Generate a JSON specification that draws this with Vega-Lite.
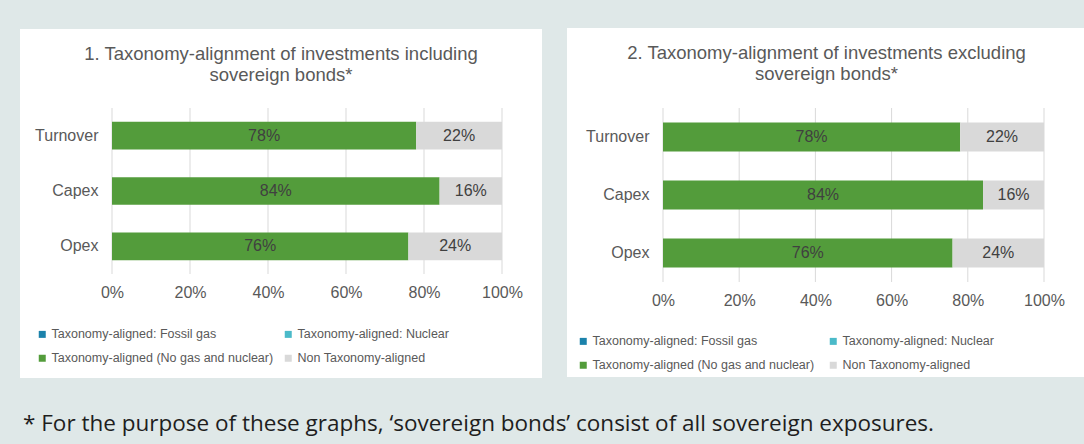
{
  "$schema": "https://vega.github.io/schema/vega-lite/v6.json",
  "background": "#dfe8e8",
  "padding": {"left": 19, "top": 28, "right": 0, "bottom": 12},
  "config": {
    "font": "Liberation Sans",
    "view": {"stroke": null},
    "axis": {"labelFont": "Liberation Sans", "labelFontSize": 16, "labelColor": "#595959", "domain": false, "ticks": false, "grid": false, "title": null},
    "legend": {"columns": 2, "direction": "horizontal", "symbolType": "square", "symbolSize": 49, "symbolStrokeWidth": 0, "labelFont": "Liberation Sans", "labelFontSize": 12.5, "labelColor": "#595959", "labelOffset": 3, "labelLimit": 400, "rowPadding": 11, "padding": 0},
    "title": {"font": "Liberation Sans", "fontSize": 18.5, "fontWeight": "normal", "color": "#595959", "lineHeight": 21}
  },
  "title": {"text": "* For the purpose of these graphs, ‘sovereign bonds’ consist of all sovereign exposures.", "orient": "bottom", "anchor": "start", "font": "Open Sans", "fontSize": 22.5, "fontWeight": "normal", "color": "#1e1e1e", "offset": 35, "dx": 3},
  "datasets": {
    "incl": [
      {"category": "Turnover", "type": "Taxonomy-aligned (No gas and nuclear)", "value": 0.78},
      {"category": "Turnover", "type": "Non Taxonomy-aligned", "value": 0.22},
      {"category": "Capex", "type": "Taxonomy-aligned (No gas and nuclear)", "value": 0.84},
      {"category": "Capex", "type": "Non Taxonomy-aligned", "value": 0.16},
      {"category": "Opex", "type": "Taxonomy-aligned (No gas and nuclear)", "value": 0.76},
      {"category": "Opex", "type": "Non Taxonomy-aligned", "value": 0.24}
    ],
    "excl": [
      {"category": "Turnover", "type": "Taxonomy-aligned (No gas and nuclear)", "value": 0.78},
      {"category": "Turnover", "type": "Non Taxonomy-aligned", "value": 0.22},
      {"category": "Capex", "type": "Taxonomy-aligned (No gas and nuclear)", "value": 0.84},
      {"category": "Capex", "type": "Non Taxonomy-aligned", "value": 0.16},
      {"category": "Opex", "type": "Taxonomy-aligned (No gas and nuclear)", "value": 0.76},
      {"category": "Opex", "type": "Non Taxonomy-aligned", "value": 0.24}
    ],
    "ticks": [{"tick": 0}, {"tick": 0.2}, {"tick": 0.4}, {"tick": 0.6}, {"tick": 0.8}, {"tick": 1}]
  },
  "spacing": 24,
  "resolve": {"scale": {"color": "independent"}},
  "hconcat": [
    {
      "width": 390,
      "height": 166,
      "title": {"text": ["1. Taxonomy-alignment  of investments including", "sovereign bonds*"], "offset": -55, "frame": "bounds", "anchor": "middle"},
      "resolve": {"scale": {"y": "independent"}},
      "layer": [
        {
          "data": {"values": [{}]},
          "mark": {"type": "rect", "fill": "#ffffff"},
          "encoding": {
            "x": {"datum": -0.2359, "type": "quantitative", "scale": {"domain": [0, 1], "nice": false}},
            "x2": {"datum": 1.10256},
            "y": {"datum": 1.4759, "type": "quantitative", "scale": {"domain": [0, 1], "nice": false}, "axis": null},
            "y2": {"datum": -0.62651}
          }
        },
        {
          "data": {"name": "ticks"},
          "mark": {"type": "rule", "color": "#d9d9d9", "strokeWidth": 1},
          "encoding": {"x": {"field": "tick", "type": "quantitative"}}
        },
        {
          "data": {"name": "incl"},
          "transform": [{"stack": "value", "groupby": ["category"], "sort": [{"field": "type", "order": "descending"}], "as": ["x0", "x1"]}],
          "mark": {"type": "bar"},
          "encoding": {
            "x": {"field": "x0", "type": "quantitative", "scale": {"domain": [0, 1], "nice": false}, "axis": {"values": [0, 0.2, 0.4, 0.6, 0.8, 1], "format": ".0%", "labelPadding": 10, "labelFlush": false, "zindex": 1, "orient": "bottom"}},
            "x2": {"field": "x1"},
            "y": {"field": "category", "type": "nominal", "sort": ["Turnover", "Capex", "Opex"], "scale": {"paddingInner": 0.5, "paddingOuter": 0.25}, "axis": {"labelPadding": 14, "zindex": 1, "orient": "left"}},
            "color": {
              "field": "type", "type": "nominal",
              "scale": {"domain": ["Taxonomy-aligned: Fossil gas", "Taxonomy-aligned: Nuclear", "Taxonomy-aligned (No gas and nuclear)", "Non Taxonomy-aligned"], "range": ["#1b82ab", "#4bbac9", "#539c3b", "#d9d9d9"]},
              "legend": {"title": null, "orient": "none", "legendX": -76, "legendY": 220, "columnPadding": 8}
            }
          }
        },
        {
          "data": {"name": "incl"},
          "transform": [
            {"stack": "value", "groupby": ["category"], "sort": [{"field": "type", "order": "descending"}], "as": ["x0", "x1"]},
            {"calculate": "(datum.x0 + datum.x1) / 2", "as": "mid"}
          ],
          "mark": {"type": "text", "font": "Liberation Sans", "fontSize": 16, "color": "#404040", "align": "center", "baseline": "middle"},
          "encoding": {
            "x": {"field": "mid", "type": "quantitative"},
            "y": {"field": "category", "type": "nominal", "sort": ["Turnover", "Capex", "Opex"], "scale": {"paddingInner": 0.5, "paddingOuter": 0.25}, "axis": null},
            "text": {"field": "value", "format": ".0%"}
          }
        }
      ]
    },
    {
      "width": 381,
      "height": 174,
      "title": {"text": ["2. Taxonomy-alignment  of investments excluding", "sovereign bonds*"], "offset": -55, "frame": "bounds", "anchor": "middle"},
      "resolve": {"scale": {"y": "independent"}},
      "layer": [
        {
          "data": {"values": [{}]},
          "mark": {"type": "rect", "fill": "#ffffff"},
          "encoding": {
            "x": {"datum": -0.25197, "type": "quantitative", "scale": {"domain": [0, 1], "nice": false}},
            "x2": {"datum": 1.11024},
            "y": {"datum": 1.45977, "type": "quantitative", "scale": {"domain": [0, 1], "nice": false}, "axis": null},
            "y2": {"datum": -0.54598}
          }
        },
        {
          "data": {"name": "ticks"},
          "mark": {"type": "rule", "color": "#d9d9d9", "strokeWidth": 1},
          "encoding": {"x": {"field": "tick", "type": "quantitative"}}
        },
        {
          "data": {"name": "excl"},
          "transform": [{"stack": "value", "groupby": ["category"], "sort": [{"field": "type", "order": "descending"}], "as": ["x0", "x1"]}],
          "mark": {"type": "bar"},
          "encoding": {
            "x": {"field": "x0", "type": "quantitative", "scale": {"domain": [0, 1], "nice": false}, "axis": {"values": [0, 0.2, 0.4, 0.6, 0.8, 1], "format": ".0%", "labelPadding": 10, "labelFlush": false, "zindex": 1, "orient": "bottom"}},
            "x2": {"field": "x1"},
            "y": {"field": "category", "type": "nominal", "sort": ["Turnover", "Capex", "Opex"], "scale": {"paddingInner": 0.5, "paddingOuter": 0.25}, "axis": {"labelPadding": 14, "zindex": 1, "orient": "left"}},
            "color": {
              "field": "type", "type": "nominal",
              "scale": {"domain": ["Taxonomy-aligned: Fossil gas", "Taxonomy-aligned: Nuclear", "Taxonomy-aligned (No gas and nuclear)", "Non Taxonomy-aligned"], "range": ["#1b82ab", "#4bbac9", "#539c3b", "#d9d9d9"]},
              "legend": {"title": null, "orient": "none", "legendX": -86, "legendY": 227, "columnPadding": 12}
            }
          }
        },
        {
          "data": {"name": "excl"},
          "transform": [
            {"stack": "value", "groupby": ["category"], "sort": [{"field": "type", "order": "descending"}], "as": ["x0", "x1"]},
            {"calculate": "(datum.x0 + datum.x1) / 2", "as": "mid"}
          ],
          "mark": {"type": "text", "font": "Liberation Sans", "fontSize": 16, "color": "#404040", "align": "center", "baseline": "middle"},
          "encoding": {
            "x": {"field": "mid", "type": "quantitative"},
            "y": {"field": "category", "type": "nominal", "sort": ["Turnover", "Capex", "Opex"], "scale": {"paddingInner": 0.5, "paddingOuter": 0.25}, "axis": null},
            "text": {"field": "value", "format": ".0%"}
          }
        }
      ]
    }
  ]
}
